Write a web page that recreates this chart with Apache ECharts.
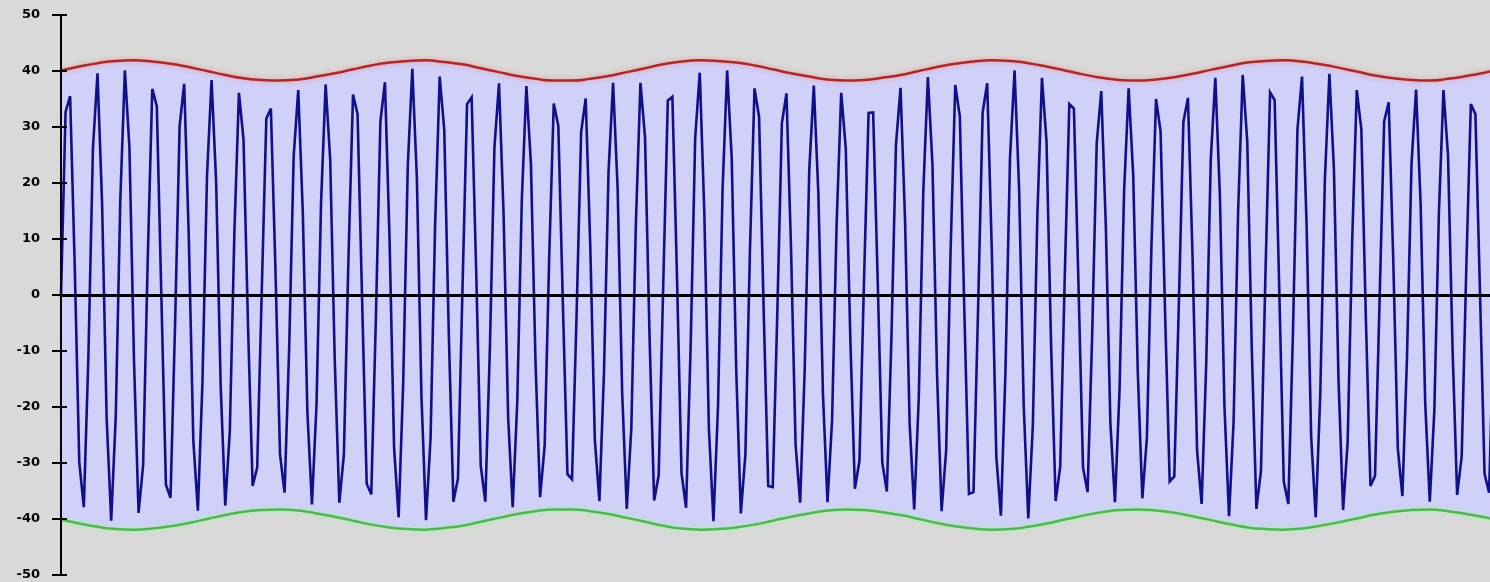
<!DOCTYPE html>
<html>
<head>
<meta charset="utf-8">
<script src="https://cdn.jsdelivr.net/npm/echarts@6/dist/echarts.min.js"></script>
<style>
html,body{margin:0;padding:0;background:#d9d9d9;}
#chart{width:1490px;height:582px;}
</style>
</head>
<body>
<div id="chart"></div>
<script>
// y axis tick labels
const yTickLabels = [-50, -40, -30, -20, -10, 0, 10, 20, 30, 40, 50];

// blue signal, one value per sample (sample index 0..315)
const signal = [
  0, 32.7, 35.5, 5.5, -29.8, -37.9, -11.1, 26.2, 39.6, 16.5,
  -21.9, -40.3, -21.7, 17.0, 40.1, 26.3, -11.7, -38.9, -30.4, 6.1,
  36.8, 33.7, -0.4, -33.9, -36.2, -5.3, 30.2, 37.7, 10.6, -26.0,
  -38.5, -15.7, 21.3, 38.4, 20.2, -16.3, -37.6, -24.3, 11.2, 36.1,
  27.8, -5.9, -34.1, -30.8,
  0.7, 31.5, 33.3, 4.6, -28.4, -35.3, -9.7, 24.8, 36.6, 14.7,
  -20.9, -37.4, -19.6, 16.5, 37.6, 24.2, -11.6, -37.1, -28.5, 6.5,
  35.8, 32.3, -1.0, -33.7, -35.6, -4.6, 30.9, 38.0, 10.2, -27.2,
  -39.7, -15.7, 22.9, 40.4, 20.8, -18.0, -40.2, -25.5, 12.6, 39.0,
  29.5, -7.1, -36.9, -32.8,
  1.4, 34.1, 35.3, 4.2, -30.5, -36.9, -9.5, 26.4, 37.8, 14.5,
  -21.8, -37.9, -19.1, 17.0, 37.3, 23.3, -12.0, -36.1, -27.0, 6.8,
  34.2, 30.2, -1.6, -32.0, -32.9, -3.6, 29.1, 35.1, 8.8, -25.8,
  -36.8, -14.0, 21.9, 37.9, 19.0, -17.6, -38.2, -23.8, 12.8, 37.9,
  28.2, -7.6, -36.7, -32.2,
  2.1, 34.7, 35.4, 3.5, -31.8, -38.0, -9.2, 28.1, 39.7, 14.7,
  -23.8, -40.4, -19.9, 18.9, 40.1, 24.5, -13.6, -39.0, -28.5, 8.0,
  36.9, 31.8, -2.4, -34.1, -34.3, -3.1, 30.7, 36.0, 8.4, -26.7,
  -37.1, -13.4, 22.3, 37.4, 18.0, -17.7, -37.0, -22.3, 12.8, 36.1,
  26.2, -7.8, -34.6, -29.6,
  2.6, 32.5, 32.6, 2.6, -29.9, -35.1, -7.9, 26.8, 37.0, 13.2,
  -23.0, -38.3, -18.4, 18.7, 38.9, 23.3, -14.0, -38.6, -27.8, 8.7,
  37.5, 31.9, -3.2, -35.5, -35.2, -2.5, 32.6, 37.8, 8.2, -28.9,
  -39.4, -13.7, 24.6, 40.1, 18.8, -19.7, -39.9, -23.4, 14.4, 38.8,
  27.4, -8.9, -36.8, -30.7,
  3.4, 34.1, 33.3, 2.0, -30.8, -35.2, -7.3, 27.1, 36.4, 12.3,
  -22.9, -37.0, -17.0, 18.5, 36.9, 21.4, -13.7, -36.3, -25.5, 8.8,
  35.0, 29.2, -3.6, -33.3, -32.4, -1.7, 30.9, 35.2, 7.0, -27.8,
  -37.3, -12.4, 24.2, 38.8, 17.7, -19.9, -39.5, -22.7, 15.1, 39.3,
  27.4, -9.9, -38.2, -31.4,
  4.3, 36.2, 34.8, 1.4, -33.3, -37.3, -7.1, 29.6, 39.0, 12.6,
  -25.2, -39.7, -17.7, 20.4, 39.5, 22.3, -15.2, -38.4, -26.3, 9.8,
  36.6, 29.6, -4.4, -34.1, -32.3, -1.0, 31.0, 34.4, 6.2, -27.5,
  -35.9, -11.3, 23.5, 36.7, 16.1, -19.3, -36.9, -20.7, 14.7, 36.6,
  24.9, -9.8, -35.7, -28.8,
  4.7, 34.1, 32.3, 0.7, -31.9, -35.3, -6.1, 29.0
];

// envelopes, one value every 4 samples (sample index 0, 4, 8, ... 316)
const upperEnvelope = [
  40.1, 40.8, 41.4, 41.8, 41.9, 41.7, 41.3, 40.7, 40.0, 39.3,
  38.7, 38.4, 38.3, 38.5, 39.0, 39.6, 40.3, 41.0, 41.5, 41.8,
  41.9, 41.6, 41.2, 40.5, 39.8, 39.1, 38.6, 38.3, 38.3, 38.6,
  39.1, 39.8, 40.5, 41.2, 41.7, 41.9, 41.8, 41.5, 41.0, 40.3,
  39.6, 39.0, 38.5, 38.3, 38.4, 38.8, 39.3, 40.0, 40.7, 41.3,
  41.7, 41.9, 41.8, 41.4, 40.8, 40.1, 39.4, 38.8, 38.4, 38.3,
  38.5, 38.9, 39.5, 40.2, 40.9, 41.5, 41.8, 41.9, 41.7, 41.2,
  40.6, 39.9, 39.2, 38.7, 38.4, 38.3, 38.6, 39.1, 39.7, 40.4
];
const lowerEnvelope = [
  -40.1, -40.8, -41.4, -41.8, -41.9, -41.7, -41.3, -40.7, -40.0, -39.3,
  -38.7, -38.4, -38.3, -38.5, -39.0, -39.6, -40.3, -41.0, -41.5, -41.8,
  -41.9, -41.6, -41.2, -40.5, -39.8, -39.1, -38.6, -38.3, -38.3, -38.6,
  -39.1, -39.8, -40.5, -41.2, -41.7, -41.9, -41.8, -41.5, -41.0, -40.3,
  -39.6, -39.0, -38.5, -38.3, -38.4, -38.8, -39.3, -40.0, -40.7, -41.3,
  -41.7, -41.9, -41.8, -41.4, -40.8, -40.1, -39.4, -38.8, -38.4, -38.3,
  -38.5, -38.9, -39.5, -40.2, -40.9, -41.5, -41.8, -41.9, -41.7, -41.2,
  -40.6, -39.9, -39.2, -38.7, -38.4, -38.3, -38.6, -39.1, -39.7, -40.4
];
const envelopeStep = 4;

const signalData = signal.map((v, i) => [i, v]);
const upperData = upperEnvelope.map((v, k) => [k * envelopeStep, v]);
const lowerData = lowerEnvelope.map((v, k) => [k * envelopeStep, v]);

const chart = echarts.init(document.getElementById('chart'), null, {renderer: 'canvas'});
const fillColor = '#d0d0f8';
const yMin = yTickLabels[0], yMax = yTickLabels[yTickLabels.length - 1];
const yStep = yTickLabels[1] - yTickLabels[0];

chart.setOption({
  backgroundColor: '#d9d9d9',
  animation: false,
  grid: {left: 61, right: 0, top: 15, bottom: 7, containLabel: false},
  xAxis: {
    type: 'value', min: 0, max: 313.2, z: 5,
    axisLine: {show: true, onZero: true, lineStyle: {color: '#000010', width: 3}},
    axisTick: {show: false}, axisLabel: {show: false}, splitLine: {show: false}
  },
  yAxis: [
    {
      type: 'value', min: yMin, max: yMax, interval: yStep, z: 6, position: 'left',
      axisLine: {show: true, lineStyle: {color: '#000', width: 2}},
      axisTick: {show: true, inside: false, length: 9, lineStyle: {color: '#000', width: 2}},
      axisLabel: {
        show: true, margin: 21, color: '#000',
        fontFamily: 'DejaVu Sans', fontWeight: 'bold', fontSize: 13
      },
      splitLine: {show: false}
    },
    {
      type: 'value', min: yMin, max: yMax, interval: yStep, z: 6, position: 'left', offset: 0,
      axisLine: {show: false},
      axisTick: {show: true, inside: true, length: 6, lineStyle: {color: '#000', width: 2}},
      axisLabel: {show: false},
      splitLine: {show: false}
    }
  ],
  series: [
    {
      type: 'line', data: upperData, symbol: 'none', smooth: true, silent: true, z: 1,
      lineStyle: {width: 0, opacity: 0},
      areaStyle: {color: fillColor, opacity: 1}
    },
    {
      type: 'line', data: lowerData, symbol: 'none', smooth: true, silent: true, z: 1,
      lineStyle: {width: 0, opacity: 0},
      areaStyle: {color: fillColor, opacity: 1}
    },
    {
      type: 'line', data: signalData, symbol: 'none', silent: true, z: 2,
      lineStyle: {color: '#10108a', width: 2.6, join: 'miter', miterLimit: 4}
    },
    {
      type: 'line', data: upperData, symbol: 'none', smooth: true, silent: true, z: 3,
      lineStyle: {color: '#a42c2c', width: 2.5, shadowColor: 'rgba(255,140,140,1)', shadowBlur: 5}
    },
    {
      type: 'line', data: lowerData, symbol: 'none', smooth: true, silent: true, z: 3,
      lineStyle: {color: '#55b455', width: 2.5, shadowColor: 'rgba(150,255,150,1)', shadowBlur: 5}
    }
  ]
});
</script>
</body>
</html>
